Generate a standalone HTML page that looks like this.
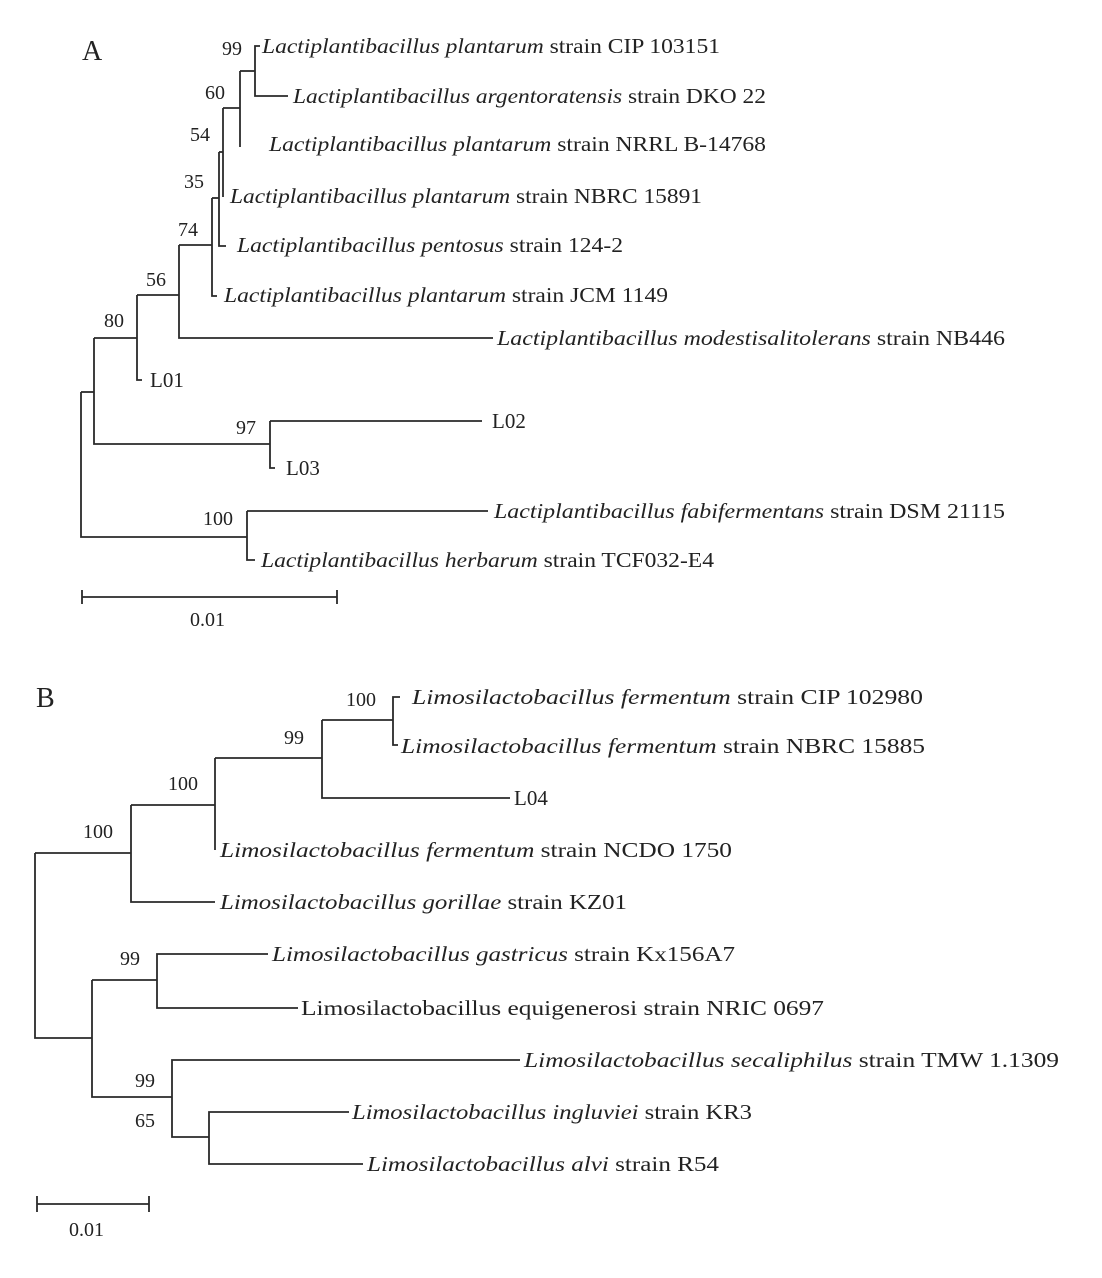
<!DOCTYPE html>
<html><head><meta charset="utf-8"><style>
html,body{margin:0;padding:0;background:#fff;}
svg{display:block;}
text{font-family:"Liberation Serif",serif;font-size:21px;fill:#222;}
text.b{font-size:20px;}
</style></head><body>
<svg width="1102" height="1278" viewBox="0 0 1102 1278" xmlns="http://www.w3.org/2000/svg">
<g stroke="#2a2a2a" stroke-width="1.8" fill="none">
<path d="M260,46 H255 V96 H288"/>
<path d="M240,71 H255"/>
<path d="M240,71 V147"/>
<path d="M223,108 H240"/>
<path d="M223,108 V197"/>
<path d="M219,152 H223"/>
<path d="M219,152 V246 H226"/>
<path d="M212,198 H219"/>
<path d="M212,198 V296 H217"/>
<path d="M179,245 H212"/>
<path d="M179,245 V338 H493"/>
<path d="M137,295 H179"/>
<path d="M137,295 V380 H142"/>
<path d="M94,338 H137" />
<path d="M94,338 V444 H270"/>
<path d="M270,421 H482"/>
<path d="M270,421 V468 H275"/>
<path d="M81,392 H94"/>
<path d="M81,392 V537 H247"/>
<path d="M247,511 H488"/>
<path d="M247,511 V560 H255"/>
<path d="M82,597 H337 M82,590 V604 M337,590 V604"/>
<path d="M400,697 H393 V745 H398"/>
<path d="M322,720 H393"/>
<path d="M322,720 V798 H510"/>
<path d="M215,758 H322"/>
<path d="M215,758 V850"/>
<path d="M131,805 H215"/>
<path d="M131,805 V902 H215"/>
<path d="M35,853 H131"/>
<path d="M35,853 V1038 H92"/>
<path d="M92,980 V1097 H172"/>
<path d="M92,980 H157"/>
<path d="M268,954 H157 V1008 H298"/>
<path d="M520,1060 H172 V1137 H209"/>
<path d="M349,1112 H209 V1164 H363"/>
<path d="M37,1204 H149 M37,1196 V1212 M149,1196 V1212"/>
</g>
<text x="82" y="60" style="font-size:28px">A</text>
<text x="36" y="707" style="font-size:28px">B</text>
<text class="b" x="222" y="55">99</text>
<text class="b" x="205" y="99">60</text>
<text class="b" x="190" y="141">54</text>
<text class="b" x="184" y="188">35</text>
<text class="b" x="178" y="236">74</text>
<text class="b" x="146" y="286">56</text>
<text class="b" x="104" y="327">80</text>
<text class="b" x="236" y="434">97</text>
<text class="b" x="203" y="525">100</text>
<text class="b" x="190" y="626">0.01</text>
<text x="262" y="53" textLength="458" lengthAdjust="spacingAndGlyphs"><tspan font-style="italic">Lactiplantibacillus plantarum</tspan> strain CIP 103151</text>
<text x="293" y="103" textLength="473" lengthAdjust="spacingAndGlyphs"><tspan font-style="italic">Lactiplantibacillus argentoratensis</tspan> strain DKO 22</text>
<text x="269" y="151" textLength="497" lengthAdjust="spacingAndGlyphs"><tspan font-style="italic">Lactiplantibacillus plantarum</tspan> strain NRRL B-14768</text>
<text x="230" y="203" textLength="472" lengthAdjust="spacingAndGlyphs"><tspan font-style="italic">Lactiplantibacillus plantarum</tspan> strain NBRC 15891</text>
<text x="237" y="252" textLength="386" lengthAdjust="spacingAndGlyphs"><tspan font-style="italic">Lactiplantibacillus pentosus</tspan> strain 124-2</text>
<text x="224" y="302" textLength="444" lengthAdjust="spacingAndGlyphs"><tspan font-style="italic">Lactiplantibacillus plantarum</tspan> strain JCM 1149</text>
<text x="497" y="345" textLength="508" lengthAdjust="spacingAndGlyphs"><tspan font-style="italic">Lactiplantibacillus modestisalitolerans</tspan> strain NB446</text>
<text x="150" y="387">L01</text>
<text x="492" y="428">L02</text>
<text x="286" y="475">L03</text>
<text x="494" y="518" textLength="511" lengthAdjust="spacingAndGlyphs"><tspan font-style="italic">Lactiplantibacillus fabifermentans</tspan> strain DSM 21115</text>
<text x="261" y="567" textLength="453" lengthAdjust="spacingAndGlyphs"><tspan font-style="italic">Lactiplantibacillus herbarum</tspan> strain TCF032-E4</text>
<text class="b" x="346" y="706">100</text>
<text class="b" x="284" y="744">99</text>
<text class="b" x="168" y="790">100</text>
<text class="b" x="83" y="838">100</text>
<text class="b" x="120" y="965">99</text>
<text class="b" x="135" y="1087">99</text>
<text class="b" x="135" y="1127">65</text>
<text class="b" x="69" y="1236">0.01</text>
<text x="412" y="704" textLength="511" lengthAdjust="spacingAndGlyphs"><tspan font-style="italic">Limosilactobacillus fermentum</tspan> strain CIP 102980</text>
<text x="401" y="753" textLength="524" lengthAdjust="spacingAndGlyphs"><tspan font-style="italic">Limosilactobacillus fermentum</tspan> strain NBRC 15885</text>
<text x="514" y="805">L04</text>
<text x="220" y="857" textLength="512" lengthAdjust="spacingAndGlyphs"><tspan font-style="italic">Limosilactobacillus fermentum</tspan> strain NCDO 1750</text>
<text x="220" y="909" textLength="407" lengthAdjust="spacingAndGlyphs"><tspan font-style="italic">Limosilactobacillus gorillae</tspan> strain KZ01</text>
<text x="272" y="961" textLength="463" lengthAdjust="spacingAndGlyphs"><tspan font-style="italic">Limosilactobacillus gastricus</tspan> strain Kx156A7</text>
<text x="301" y="1015" textLength="523" lengthAdjust="spacingAndGlyphs">Limosilactobacillus equigenerosi strain NRIC 0697</text>
<text x="524" y="1067" textLength="535" lengthAdjust="spacingAndGlyphs"><tspan font-style="italic">Limosilactobacillus secaliphilus</tspan> strain TMW 1.1309</text>
<text x="352" y="1119" textLength="400" lengthAdjust="spacingAndGlyphs"><tspan font-style="italic">Limosilactobacillus ingluviei</tspan> strain KR3</text>
<text x="367" y="1171" textLength="352" lengthAdjust="spacingAndGlyphs"><tspan font-style="italic">Limosilactobacillus alvi</tspan> strain R54</text>
</svg>
</body></html>
